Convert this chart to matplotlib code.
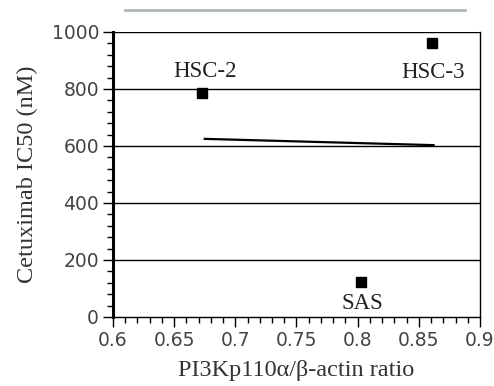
import matplotlib
matplotlib.use('Agg')
import matplotlib.pyplot as plt
from matplotlib.ticker import MultipleLocator, FuncFormatter
from matplotlib.lines import Line2D

# Cell lines: PI3K p110a / b-actin ratio vs cetuximab IC50
cell_lines = ['HSC-2', 'HSC-3', 'SAS']
ratio = [0.673, 0.861, 0.803]
ic50 = [786, 961, 123]

# label anchor positions (data coords)
label_x = [0.675, 0.862, 0.804]
label_y = [862, 858, 48]

# linear trend line endpoints
trend_x = [0.675, 0.862]
trend_y = [625, 603]

serif = 'Liberation Serif'

fig = plt.figure(figsize=(4.94, 3.86), dpi=100)
ax = fig.add_axes([0.2287, 0.1788, 0.9717 - 0.2287, 0.9171 - 0.1788])

for y in [200, 400, 600, 800, 1000]:
    ax.axhline(y, color='black', lw=1.0, zorder=1)

ax.plot(trend_x, trend_y, color='black', lw=1.6, zorder=2)
ax.plot(ratio, ic50, 's', color='black', markersize=6.5, zorder=3)

for name, lx, ly in zip(cell_lines, label_x, label_y):
    ax.text(lx, ly, name, family=serif, fontsize=16.5, ha='center', va='center',
            color='#222222')

ax.set_xlim(0.6, 0.9)
ax.set_ylim(0, 1000)
ax.xaxis.set_major_locator(MultipleLocator(0.05))
ax.xaxis.set_minor_locator(MultipleLocator(0.01))
ax.yaxis.set_major_locator(MultipleLocator(200))
ax.yaxis.set_minor_locator(MultipleLocator(40))
ax.xaxis.set_major_formatter(FuncFormatter(lambda v, p: f'{v:g}'))

ax.tick_params(axis='both', which='major', direction='out', length=7, width=1,
               labelsize=13.5, colors='black', pad=3)
ax.tick_params(axis='both', which='minor', direction='out', length=4, width=1)
for lab in ax.get_xticklabels() + ax.get_yticklabels():
    lab.set_color('#444444')

ax.spines['left'].set_linewidth(2.2)
ax.spines['top'].set_visible(False)
for s in ['right', 'bottom']:
    ax.spines[s].set_linewidth(1.0)

ax.set_ylabel('Cetuximab IC50 (nM)', family=serif, fontsize=17.5, color='#333333', labelpad=10)
ax.set_xlabel('PI3Kp110α/β-actin ratio', family=serif, fontsize=17.5, color='#333333', labelpad=7)

# faint rule above the plot
fig.add_artist(Line2D([0.253, 0.941], [0.974, 0.974], color='#b0bab4', lw=2.0))

fig.savefig('out.png', dpi=100)
